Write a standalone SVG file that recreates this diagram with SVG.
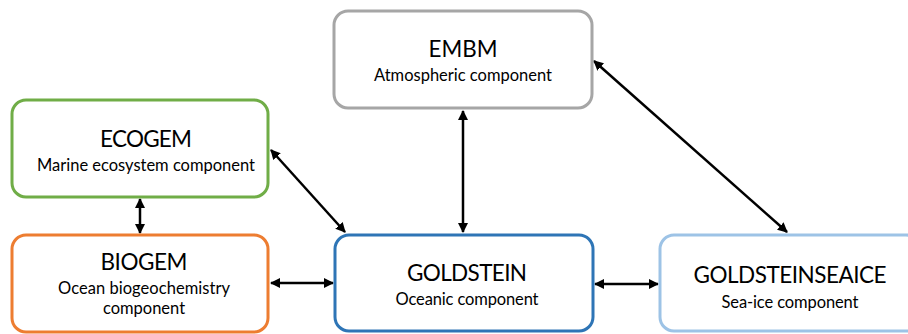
<svg xmlns="http://www.w3.org/2000/svg" width="908" height="334" viewBox="0 0 908 334">
<style>
.box{fill:#fff;stroke-width:3}
.t{font-family:Lato,"Open Sans","Liberation Sans",sans-serif;font-size:22.5px;fill:#000;text-anchor:middle}
.s{font-family:Lato,"Open Sans","Liberation Sans",sans-serif;font-size:16.5px;fill:#000;text-anchor:middle}
.c{stroke:#000;stroke-width:2.5;fill:none;marker-start:url(#ah);marker-end:url(#ah)}
</style>
<defs>
<marker id="ah" viewBox="0 0 10 10" refX="9" refY="5" markerWidth="4" markerHeight="4" orient="auto-start-reverse" markerUnits="strokeWidth">
<path d="M0,0 L10,5 L0,10 Z" fill="#000"/>
</marker>
</defs>
<rect width="908" height="334" fill="#fff"/>
<g id="connectors">
<line class="c" x1="140" y1="199" x2="140" y2="233"/>
<line class="c" x1="271" y1="283" x2="333" y2="283"/>
<line class="c" x1="271" y1="150" x2="345" y2="232"/>
<line class="c" x1="463" y1="111" x2="463" y2="232"/>
<line class="c" x1="595" y1="284" x2="658" y2="284"/>
<line class="c" x1="594" y1="61" x2="787" y2="232"/>
</g>
<g id="embm">
<rect class="box" x="334" y="11" width="258" height="97" rx="14" stroke="#a6a6a6"/>
<text class="t" x="463" y="57" textLength="69" lengthAdjust="spacingAndGlyphs">EMBM</text>
<text class="s" x="463" y="81" textLength="178">Atmospheric component</text>
</g>
<g id="ecogem">
<rect class="box" x="12" y="100" width="256" height="97" rx="14" stroke="#70ad47"/>
<text class="t" x="146" y="147" textLength="92">ECOGEM</text>
<text class="s" x="146" y="171" textLength="218">Marine ecosystem component</text>
</g>
<g id="biogem">
<rect class="box" x="12" y="235" width="256" height="97" rx="14" stroke="#ed7d31"/>
<text class="t" x="144" y="270" textLength="87">BIOGEM</text>
<text class="s" x="144" y="294" textLength="172">Ocean biogeochemistry</text>
<text class="s" x="144" y="314">component</text>
</g>
<g id="goldstein">
<rect class="box" x="335" y="235" width="258" height="96" rx="14" stroke="#2e75b6"/>
<text class="t" x="467" y="281" textLength="120">GOLDSTEIN</text>
<text class="s" x="467" y="305" textLength="143">Oceanic component</text>
</g>
<g id="goldsteinseaice">
<rect class="box" x="660" y="235" width="260" height="96" rx="14" stroke="#9dc3e6"/>
<text class="t" x="790" y="283" textLength="193">GOLDSTEINSEAICE</text>
<text class="s" x="790" y="308" textLength="137">Sea-ice component</text>
</g>
</svg>
